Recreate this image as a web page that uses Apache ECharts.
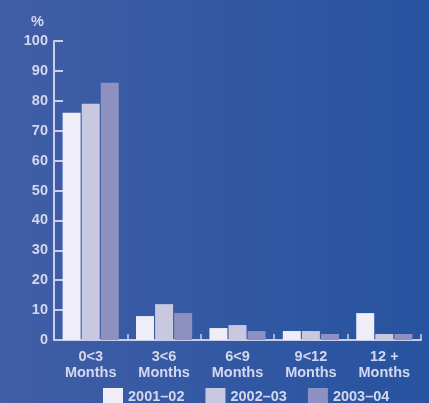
<!DOCTYPE html>
<html>
<head>
<meta charset="utf-8">
<script src="https://cdn.jsdelivr.net/npm/echarts@6/dist/echarts.min.js"></script>
<style>
html,body{margin:0;padding:0;}
#c{width:429px;height:403px;}
</style>
</head>
<body>
<div id="c"></div>
<script>
var categories = ['0<3\nMonths', '3<6\nMonths', '6<9\nMonths', '9<12\nMonths', '12 +\nMonths'];
var seriesNames = ['2001–02', '2002–03', '2003–04'];
var values2001 = [76, 8, 4, 3, 9];
var values2002 = [79, 12, 5, 3, 2];
var values2003 = [86, 9, 3, 2, 2];
var yTicks = [0, 10, 20, 30, 40, 50, 60, 70, 80, 90, 100];

var textColor = '#d4d7ed';
var axisColor = '#c9cde6';
var font = '"Liberation Sans", Arial, sans-serif';
var fs = 14.5;
var colors = ['#eeedf8', '#c8c8e0', '#8d90c0'];

var chart = echarts.init(document.getElementById('c'));
var allValues = [values2001, values2002, values2003];
chart.setOption({
  animation: false,
  backgroundColor: new echarts.graphic.LinearGradient(0, 0, 1, 0, [
    {offset: 0, color: '#405ea6'},
    {offset: 1, color: '#2753a0'}
  ]),
  grid: {left: 54, right: 8, top: 41, bottom: 63, containLabel: false},
  legend: {
    data: seriesNames,
    left: 103,
    top: 388,
    padding: 0,
    itemWidth: 20,
    itemHeight: 17,
    itemGap: 21,
    icon: 'rect',
    textStyle: {color: textColor, fontSize: fs, fontWeight: 'bold', fontFamily: font}
  },
  xAxis: {
    type: 'category',
    data: categories,
    axisLine: {lineStyle: {color: axisColor, width: 2}},
    axisTick: {show: true, inside: true, length: 6, interval: 0, lineStyle: {color: axisColor, width: 1.5}},
    axisLabel: {color: textColor, fontSize: fs, fontWeight: 'bold', fontFamily: font, lineHeight: 16, margin: 9, interval: 0},
    splitLine: {show: false}
  },
  yAxis: {
    type: 'value',
    min: yTicks[0],
    max: yTicks[yTicks.length - 1],
    interval: 10,
    name: '%',
    nameLocation: 'end',
    nameGap: 12,
    nameTextStyle: {color: textColor, fontSize: fs, fontWeight: 'bold', fontFamily: font, align: 'right', padding: [0, 10, 0, 0]},
    axisLine: {show: true, lineStyle: {color: axisColor, width: 2}},
    axisTick: {show: true, inside: true, length: 9, lineStyle: {color: axisColor, width: 2}},
    axisLabel: {color: textColor, fontSize: fs, fontWeight: 'bold', fontFamily: font, margin: 6},
    splitLine: {show: false}
  },
  series: seriesNames.map(function (n, i) {
    return {
      name: n,
      type: 'bar',
      data: allValues[i],
      barWidth: 18,
      barGap: '6%',
      itemStyle: {color: colors[i]}
    };
  })
});
</script>
</body>
</html>
